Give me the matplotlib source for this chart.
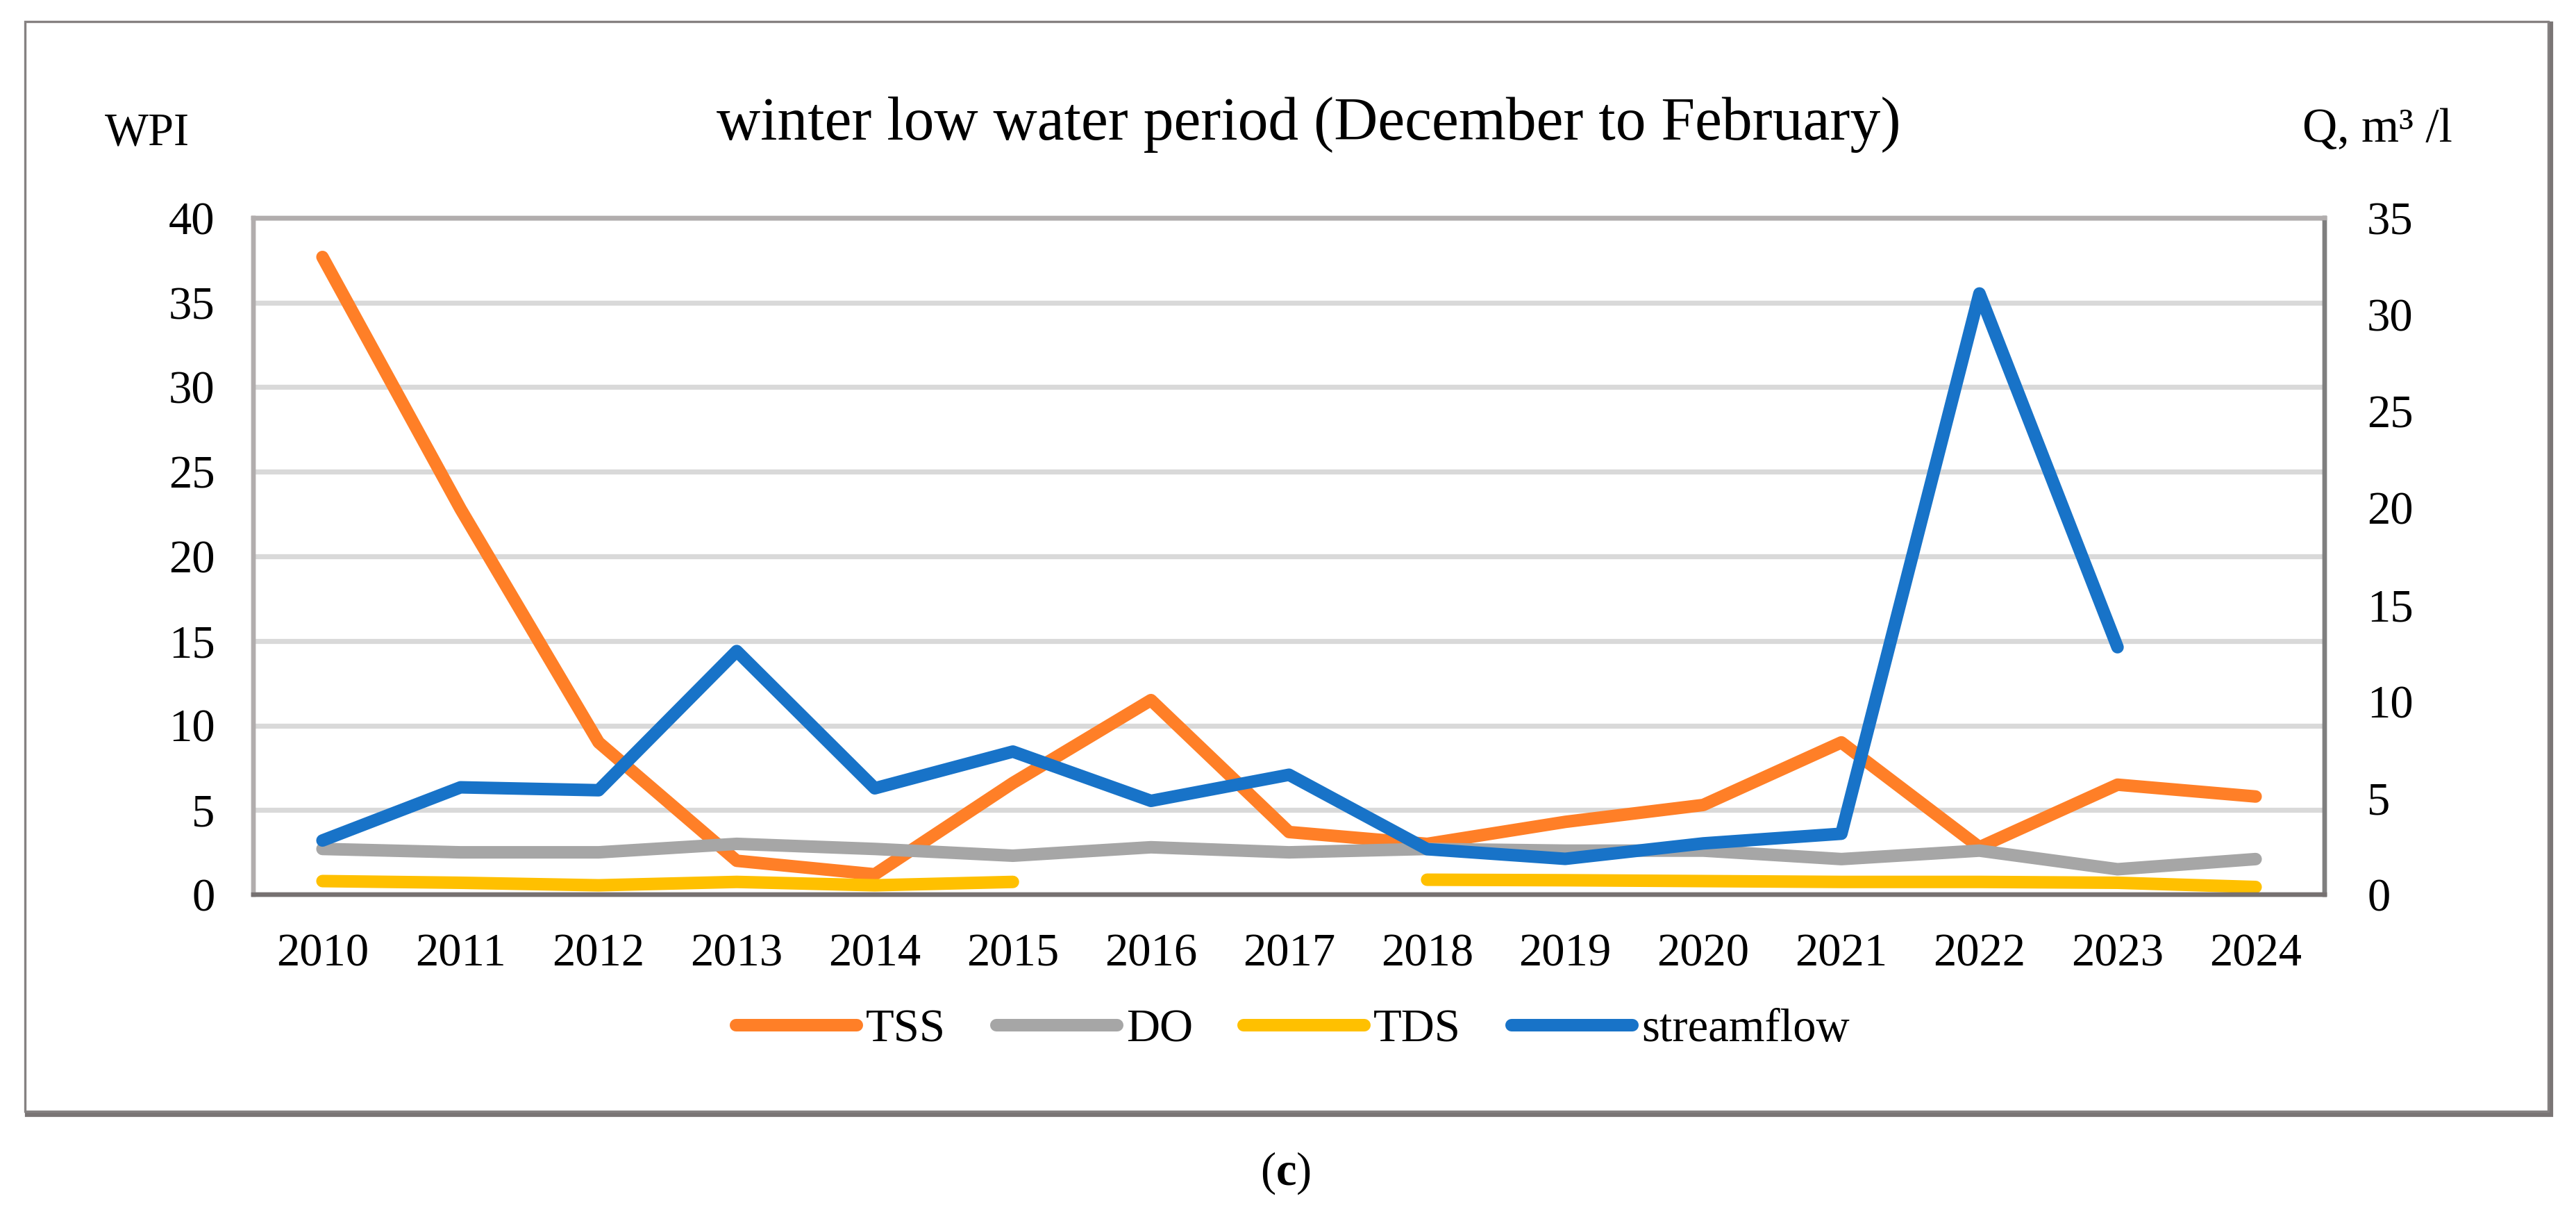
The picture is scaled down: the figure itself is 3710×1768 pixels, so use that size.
"""
Winter low water period chart: WPI of TSS, DO, TDS and streamflow
"""

import numpy as np
import matplotlib
matplotlib.use("Agg")
from matplotlib import pyplot as plt
from matplotlib.patches import Rectangle

years = [str(y) for y in range(2010, 2025)]

# WPI values (left axis)
tss = [37.7, 22.8, 9.0, 2.0, 1.2, 6.6, 11.5, 3.7, 3.0, 4.3, 5.3, 9.0, 2.8, 6.5, 5.8]
do = [2.7, 2.5, 2.5, 3.0, 2.7, 2.3, 2.8, 2.5, 2.7, 2.6, 2.6, 2.1, 2.6, 1.5, 2.1]
tds = [0.8, 0.7, 0.55, 0.75, 0.55, 0.75, np.nan, np.nan, 0.88, 0.85, 0.8, 0.75, 0.75, 0.7, 0.45]

# streamflow, Q m3/l (right axis)
streamflow = [2.8, 5.55, 5.4, 12.6, 5.5, 7.4, 4.85, 6.2, 2.35, 1.85, 2.65, 3.15, 31.1, 12.8, np.nan]

left_ticks = [0, 5, 10, 15, 20, 25, 30, 35, 40]
right_ticks = [0, 5, 10, 15, 20, 25, 30, 35]

plt.rcParams['font.family'] = ['Liberation Serif', 'DejaVu Serif']
plt.rcParams['mathtext.fontset'] = 'custom'
plt.rcParams['mathtext.rm'] = 'Liberation Serif'
plt.rcParams['mathtext.bf'] = 'Liberation Serif:bold'

W, H = 3710, 1768
fig = plt.figure(figsize=(W / 200, H / 200), dpi=200)

# outer frame with a slight shadow on the right and bottom (kept behind the axes)
fig.patches.append(Rectangle((39 / W, 1 - 1604 / H), 3634 / W, 1570 / H, transform=fig.transFigure,
                             facecolor='none', edgecolor='#7a7575', linewidth=2.6, zorder=-10))
fig.patches.append(Rectangle((36 / W, 1 - 1600 / H), 3634 / W, 1569 / H, transform=fig.transFigure,
                             facecolor='white', edgecolor='#858181', linewidth=1.2, zorder=-9))

ax = fig.add_axes([365 / W, 1 - 1288 / H, (3348 - 365) / W, (1288 - 314) / H])
ax.set_facecolor('none')
x = np.arange(len(years))

lw = 6.5
ax.plot(x, tss, color='#FF7F27', lw=lw, solid_capstyle='round', solid_joinstyle='round', label='TSS')
ax.plot(x, do, color='#A6A6A6', lw=lw, solid_capstyle='round', solid_joinstyle='round', label='DO')
ax.plot(x, tds, color='#FFC000', lw=lw, solid_capstyle='round', solid_joinstyle='round', label='TDS')

ax.set_xlim(-0.5, len(years) - 0.5)
ax.set_ylim(0, 40)
ax.set_yticks(left_ticks)
ax.set_xticks(x)
ax.set_xticklabels(years)
ax.tick_params(axis='both', length=0, labelsize=24, pad=20)
ax.yaxis.grid(True, color='#D9D9D9', lw=2.6)
ax.set_axisbelow(True)

ax2 = ax.twinx()
ax2.plot(x, streamflow, color='#1873C8', lw=lw, solid_capstyle='round', solid_joinstyle='round', label='streamflow')
ax2.set_ylim(0, 35)
ax2.set_yticks(right_ticks)
ax2.tick_params(axis='y', length=0, labelsize=24, pad=22)

for a in (ax, ax2):
    a.spines['left'].set_color('#B1ADAD')
    a.spines['top'].set_color('#B1ADAD')
    a.spines['right'].set_color('#7F7F7F')
    a.spines['bottom'].set_color('#767171')
    for s in a.spines.values():
        s.set_linewidth(2.3)

fig.text(1885 / W, 1 - 179 / H, 'winter low water period (December to February)',
         fontsize=31.5, ha='center', va='center')
fig.text(212 / W, 1 - 192 / H, 'WPI', fontsize=24, ha='center', va='center')
fig.text(3424 / W, 1 - 187 / H, 'Q, m³ /l', fontsize=25, ha='center', va='center')

h1, l1 = ax.get_legend_handles_labels()
h2, l2 = ax2.get_legend_handles_labels()
fig.legend(h1 + h2, l1 + l2, loc='center', bbox_to_anchor=(1862 / W, 1 - 1483 / H), ncol=4,
           frameon=False, fontsize=24, handlelength=2.6, handletextpad=0.2, columnspacing=1.1)

fig.text(1852 / W, 1 - 1689 / H, r'($\mathbf{c}$)', fontsize=24, ha='center', va='center')

fig.savefig('out.png', dpi=200)
